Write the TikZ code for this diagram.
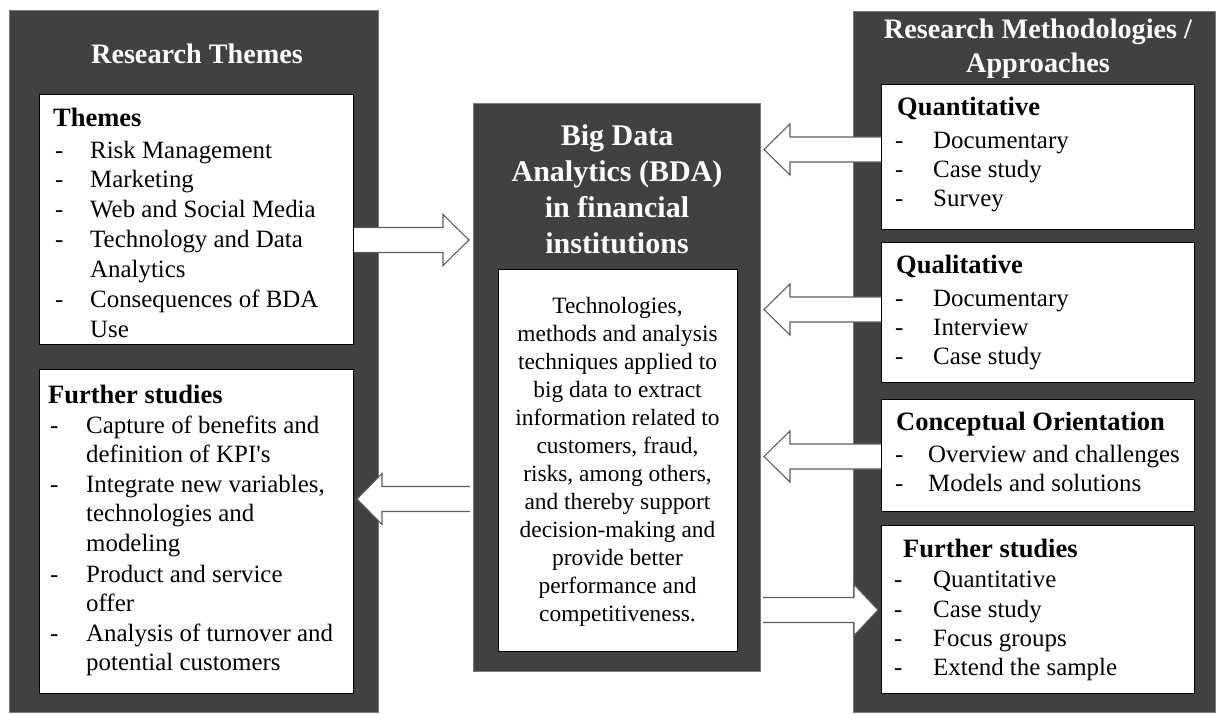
\documentclass[tikz,border=0pt]{standalone}
\usepackage{fontspec}
\setmainfont{Liberation Serif}[Ligatures=TeXOff]
\usetikzlibrary{calc}

\definecolor{panelgray}{HTML}{414141}
\definecolor{paneledge}{HTML}{7A7A7A}
\definecolor{arrowedge}{HTML}{5E5E5E}

% type sizes (1 unit = 1pt)
\newcommand\fhead{\fontsize{28.2}{33}\selectfont\bfseries}
\newcommand\fbig{\fontsize{30}{36}\selectfont\bfseries}
\newcommand\fcap{\fontsize{26.5}{30}\selectfont\bfseries}
\newcommand\flist{\fontsize{24.9}{30}\selectfont}
\newcommand\fbody{\fontsize{23.4}{28}\selectfont}

\pgfdeclarelayer{back}
\pgfdeclarelayer{mid}
\pgfsetlayers{back,mid,main}

\tikzset{
  panel/.style={draw=paneledge, line width=0.8pt, fill=panelgray, anchor=north west, inner sep=0pt, outer sep=0pt},
  card/.style={draw=black, line width=1pt, fill=white, anchor=north west, inner sep=0pt, outer sep=0pt},
  barrow/.style={fill=white, draw=arrowedge, line width=1.1pt, line join=miter},
  hd/.style={text=white, font=\fhead, anchor=base, inner sep=0pt},
  bt/.style={text=white, font=\fbig, anchor=base, inner sep=0pt},
  boxtitle/.style={font=\fcap, anchor=base west, inner sep=0pt},
  li/.style={font=\flist, anchor=base west, inner sep=0pt},
  bd/.style={font=\fbody, anchor=base, inner sep=0pt},
}

% block arrow: tail coordinate, tip coordinate, signed head length
\newcommand\blockarrow[3]{%
  \path[barrow] let \p1=(#1), \p2=(#2) in
    (\x1,{\y2+12.5pt}) -- ({\x2-(#3)},{\y2+12.5pt}) -- ({\x2-(#3)},{\y2+25.5pt})
    -- (\x2,\y2) -- ({\x2-(#3)},{\y2-25.5pt}) -- ({\x2-(#3)},{\y2-12.5pt})
    -- (\x1,{\y2-12.5pt});}

% one dashed list line: name, dash x, text x, baseline y, text
\newcommand\listentry[5]{%
  \node[li] (#1d) at (#2,#4) {-};
  \node[li] (#1) at (#3,#4) {#5};}

\begin{document}
\begin{tikzpicture}[x=1pt, y=-1pt]
\useasboundingbox (0,0) rectangle (1217,713);

% ---------- panels ----------
\begin{pgfonlayer}{back}
\node[panel, minimum width=369pt, minimum height=702pt] (themespanel) at (9,10) {};
\node[panel, minimum width=287pt, minimum height=568pt] (bdapanel) at (473,103) {};
\node[panel, minimum width=362pt, minimum height=701pt] (methpanel) at (853,11) {};
\end{pgfonlayer}

% ---------- white cards ----------
\node[card, minimum width=314pt, minimum height=250pt] (themes) at (39,94) {};
\node[card, minimum width=314pt, minimum height=324pt] (lfurther) at (39,369) {};
\node[card, minimum width=239pt, minimum height=382pt] (bdabody) at (498,269) {};
\node[card, minimum width=313pt, minimum height=145pt] (quant) at (881,84) {};
\node[card, minimum width=313pt, minimum height=140pt] (qual) at (881,242) {};
\node[card, minimum width=313pt, minimum height=112pt] (concept) at (881,399) {};
\node[card, minimum width=313pt, minimum height=168pt] (rfurther) at (881,525) {};

% ---------- arrow end points ----------
\coordinate (a1s) at (themes.east |- 0,240);
\coordinate (a1t) at ($(bdapanel.west |- 0,240)+(-4,0)$);
\coordinate (a2s) at (quant.west |- 0,149.5);
\coordinate (a2t) at ($(bdapanel.east |- 0,149.5)+(4,0)$);
\coordinate (a3s) at (qual.west |- 0,309.5);
\coordinate (a3t) at ($(bdapanel.east |- 0,309.5)+(4,0)$);
\coordinate (a4s) at (concept.west |- 0,456.5);
\coordinate (a4t) at ($(bdapanel.east |- 0,456.5)+(4,0)$);
\coordinate (a5s) at ($(bdapanel.west |- 0,499)+(-3,0)$);
\coordinate (a5t) at ($(lfurther.east |- 0,499)+(4,0)$);
\coordinate (a6s) at ($(bdapanel.east |- 0,610)+(3,0)$);
\coordinate (a6t) at ($(rfurther.west |- 0,610)+(-3,0)$);

\begin{pgfonlayer}{mid}
\blockarrow{a1s}{a1t}{26pt}
\blockarrow{a2s}{a2t}{-26pt}
\blockarrow{a3s}{a3t}{-26pt}
\blockarrow{a4s}{a4t}{-26pt}
\blockarrow{a5s}{a5t}{-25pt}
\blockarrow{a6s}{a6t}{24pt}
\end{pgfonlayer}

% ---------- headings ----------
\node[hd] (themesH) at (197,63) {Research Themes};
\node[hd] (methH1) at (1038,38) {Research Methodologies /};
\node[hd] (methH2) at (1038,72) {Approaches};

\node[bt] (bda1) at (617,145) {Big Data};
\node[bt] (bda2) at (617,181) {Analytics (BDA)};
\node[bt] (bda3) at (617,217) {in financial};
\node[bt] (bda4) at (617,253) {institutions};

% ---------- definition text ----------
\foreach \t [count=\i] in {{Technologies,}, {methods and analysis}, {techniques applied to},
    {big data to extract}, {information related to}, {customers, fraud,},
    {risks, among others,}, {and thereby support}, {decision-making and},
    {provide better}, {performance and}, {competitiveness.}}
  \node[bd] (def\i) at (617.5,{285+28*\i}) {\t};

% ---------- themes ----------
\node[boxtitle] (themesT) at (53,126) {Themes};
\listentry{th1}{55}{90}{158}{Risk Management}
\listentry{th2}{55}{90}{187}{Marketing}
\listentry{th3}{55}{90}{217}{Web and Social Media}
\listentry{th4}{55}{90}{247}{Technology and Data}
\node[li] (th4b) at (90,277) {Analytics};
\listentry{th5}{55}{90}{307}{Consequences of BDA}
\node[li] (th5b) at (90,337) {Use};

% ---------- further studies (left) ----------
\node[boxtitle] (lfT) at (48,403) {Further studies};
\listentry{lf1}{50}{86}{433}{Capture of benefits and}
\node[li] (lf1b) at (86,462) {definition of KPI's};
\listentry{lf2}{50}{86}{492}{Integrate new variables,}
\node[li] (lf2b) at (86,521) {technologies and};
\node[li] (lf2c) at (86,551) {modeling};
\listentry{lf3}{50}{86}{582}{Product and service}
\node[li] (lf3b) at (86,611) {offer};
\listentry{lf4}{50}{86}{641}{Analysis of turnover and}
\node[li] (lf4b) at (86,670) {potential customers};

% ---------- methodologies ----------
\node[boxtitle] (qnT) at (897,115) {Quantitative};
\listentry{qn1}{895}{933}{148}{Documentary}
\listentry{qn2}{895}{933}{177}{Case study}
\listentry{qn3}{895}{933}{206}{Survey}

\node[boxtitle] (qlT) at (896,273) {Qualitative};
\listentry{ql1}{895}{933}{306}{Documentary}
\listentry{ql2}{895}{933}{335}{Interview}
\listentry{ql3}{895}{933}{364}{Case study}

\node[boxtitle] (coT) at (896,430) {Conceptual Orientation};
\listentry{co1}{895}{928}{462}{Overview and challenges}
\listentry{co2}{895}{928}{491}{Models and solutions}

\node[boxtitle] (rfT) at (903,557) {Further studies};
\listentry{rf1}{894}{933}{587}{Quantitative}
\listentry{rf2}{894}{933}{617}{Case study}
\listentry{rf3}{894}{933}{646}{Focus groups}
\listentry{rf4}{894}{933}{675}{Extend the sample}
\end{tikzpicture}
\end{document}
